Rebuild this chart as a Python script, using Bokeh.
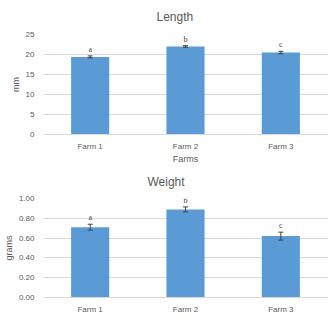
from bokeh.plotting import figure
from bokeh.models import (ColumnDataSource, FactorRange, Range1d, Whisker, TeeHead,
                          FixedTicker, NumeralTickFormatter, LabelSet)
from bokeh.layouts import column
from bokeh.embed import file_html
from bokeh.resources import INLINE

farms = ["Farm 1", "Farm 2", "Farm 3"]

length_mm = [19.4, 22.0, 20.5]
length_err = [0.25, 0.2, 0.3]
length_letters = ["a", "b", "c"]
length_ticks = [0, 5, 10, 15, 20, 25]

weight_g = [0.71, 0.89, 0.62]
weight_err = [0.03, 0.025, 0.04]
weight_letters = ["a", "b", "c"]
weight_ticks = [0.0, 0.2, 0.4, 0.6, 0.8, 1.0]

FONT = "Liberation Sans"
TXT = "#595959"
GRID = "#d9d9d9"
BAR = "#5B9BD5"
ERR = "#404040"


def make(title, vals, errs, letters, ticks, ylabel, xlabel, height, btop, bbottom,
         fmt, toff, tstand):
    src = ColumnDataSource(dict(
        x=farms, top=vals,
        upper=[v + e for v, e in zip(vals, errs)],
        lower=[v - e for v, e in zip(vals, errs)],
        letters=letters))
    p = figure(x_range=FactorRange(*farms), y_range=Range1d(0, ticks[-1]),
               width=328, height=height, output_backend="svg", toolbar_location=None,
               min_border_left=35, min_border_right=0, min_border_top=btop,
               min_border_bottom=bbottom, title=title)
    p.outline_line_color = None
    p.title.text_font = FONT
    p.title.text_font_size = "12px"
    p.title.text_font_style = "normal"
    p.title.text_color = TXT
    p.title.align = "left"
    p.title.vertical_align = "top"
    p.title.offset = toff
    p.title.standoff = tstand

    p.vbar(x="x", top="top", width=0.4, source=src, fill_color=BAR, line_color=None)
    w = Whisker(base="x", upper="upper", lower="lower", source=src,
                line_color=ERR, line_width=1, level="annotation",
                upper_head=TeeHead(size=5, line_color=ERR, line_width=1),
                lower_head=TeeHead(size=5, line_color=ERR, line_width=1))
    p.add_layout(w)
    lab = LabelSet(x="x", y="upper", text="letters", source=src, text_align="center",
                   text_baseline="bottom", y_offset=2, text_font_size="8px",
                   text_color=ERR, text_font=FONT, level="annotation")
    p.add_layout(lab)

    p.xgrid.grid_line_color = None
    p.ygrid.grid_line_color = GRID
    p.yaxis.ticker = FixedTicker(ticks=ticks)
    p.yaxis.formatter = NumeralTickFormatter(format=fmt)
    for ax in (p.xaxis[0], p.yaxis[0]):
        ax.major_tick_line_color = None
        ax.minor_tick_line_color = None
        ax.major_tick_out = 0
        ax.major_tick_in = 0
        ax.major_label_text_font = FONT
        ax.major_label_text_font_size = "8px"
        ax.major_label_text_color = TXT
        ax.axis_label_text_font = FONT
        ax.axis_label_text_font_size = "9px"
        ax.axis_label_text_font_style = "normal"
        ax.axis_label_text_color = TXT
        ax.axis_label_standoff = 2
    p.yaxis.axis_line_color = None
    p.yaxis.major_label_standoff = 8
    p.xaxis.axis_line_color = GRID
    p.xaxis.major_label_standoff = 7
    p.xaxis.axis_label_standoff = 0
    p.yaxis.axis_label = ylabel
    if xlabel:
        p.xaxis.axis_label = xlabel
    return p


p1 = make("Length", length_mm, length_err, length_letters, length_ticks, "mm", "Farms",
          166, 34, 32, "0", 114, 17)
p2 = make("Weight", weight_g, weight_err, weight_letters, weight_ticks, "grams", None,
          150, 32, 18, "0.00", 105, 15)

layout = column(p1, p2, spacing=0)
open("out.html", "w").write(file_html(layout, INLINE))
